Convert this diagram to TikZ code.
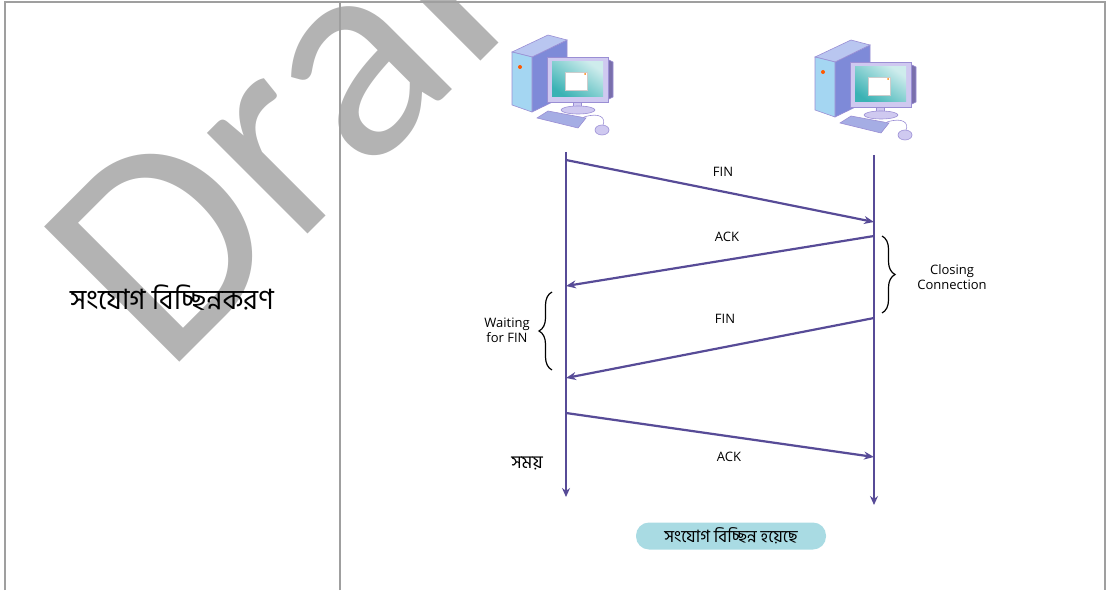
\documentclass[tikz,border=0pt]{standalone}
\usepackage{fontspec}
\setmainfont{Open Sans}
\newfontfamily\bn[Script=Bengali]{Hind Siliguri}
\newfontfamily\marca{Carlito}
\usepackage{xcolor}
\usetikzlibrary{arrows.meta,decorations.pathreplacing,positioning}

\definecolor{linea}{HTML}{574B97}
\definecolor{pill}{HTML}{A9DBE3}
\definecolor{agua}{HTML}{B3B3B3}
\definecolor{bordepc}{HTML}{9A8ED4}
\definecolor{torreFrente}{HTML}{A4D6F2}
\definecolor{torreTapa}{HTML}{B9C6F0}
\definecolor{torreLado}{HTML}{7E8AD8}
\definecolor{marco}{HTML}{CFC9F0}
\definecolor{pantalla}{HTML}{3AB2B4}

\tikzset{
  borde/.style={draw=gray!75, line width=1.2pt},
  tiempo/.style={linea, line width=2.2pt, -{Stealth[length=9pt,width=8pt]}},
  msg/.style={linea, line width=2.2pt, -{Stealth[length=10pt,width=8pt]}},
  etiq/.style={font=\fontsize{13}{15}\selectfont, align=center},
  llave/.style={decorate, decoration={brace, amplitude=13pt}, line width=1.2pt},
  pc/.style={draw=bordepc, line width=0.6pt}
}

% Computadora de escritorio (torre, monitor, teclado y raton)
\newcommand{\compu}[1]{%
\begin{scope}[shift={#1}]
  % torre
  \filldraw[pc, fill=torreLado] (-28,28) -- (7,45) -- (7,-10) -- (-28,-27) -- cycle;
  \filldraw[pc, fill=torreTapa] (-48,33) -- (-12,50) -- (7,45) -- (-28,28) -- cycle;
  \filldraw[pc, fill=torreFrente] (-48,33) -- (-28,28) -- (-28,-27) -- (-48,-20) -- cycle;
  \fill[orange!70!red] (-40,18) circle (2);
  % monitor
  \filldraw[pc, fill=linea!80] (47,26) -- (53,23) -- (53,-12) -- (47,-15) -- cycle;
  \filldraw[pc, fill=marco] (-13,28) rectangle (48,-17);
  \shade[top color=pantalla!25, bottom color=pantalla, shading angle=-35]
    (-8,23) rectangle (43,-12);
  \filldraw[draw=gray!40, fill=white] (5,13) rectangle (27,-5);
  \fill[orange] (25,11) circle (1);
  % base
  \filldraw[pc, fill=marco] (13,-17) rectangle (21,-23);
  \filldraw[pc, fill=marco] (18,-25) ellipse (17 and 4);
  % teclado
  \filldraw[pc, fill=torreLado!70] (-23,-33) -- (-12,-26) -- (26,-33) -- (18,-43) -- cycle;
  % raton
  \draw[pc] (24,-32) .. controls (40,-27) and (46,-33) .. (43,-40);
  \filldraw[pc, fill=marco] (42,-45) ellipse (7 and 5);
\end{scope}}

\begin{document}
\begin{tikzpicture}[x=1pt,y=1pt]
  \useasboundingbox (0,0) rectangle (1107,590);
  \clip (0,0) rectangle (1107,590);

  % Marca de agua
  \node[text=agua, font=\marca\fontsize{298}{298}\selectfont, anchor=base west,
        rotate=45, inner sep=0pt] (draft) at (165,213) {Draft};

  % Tabla
  \draw[borde] (5,0) -- (5,588) -- (1105,588) -- (1105,0);
  \draw[borde] (340,0) -- (340,588);

  \node[font=\bn\fontsize{28}{32}\selectfont] (titulo) at (172,292) {সংযোগ বিচ্ছিন্নকরণ};

  % Equipos
  \compu{(560,505)}
  \compu{(863,500)}

  % Lineas de tiempo
  \coordinate (A0) at (566,438); \coordinate (A1) at (566,93);
  \coordinate (B0) at (874,435); \coordinate (B1) at (874,85);
  \draw[tiempo] (A0) -- (A1);
  \draw[tiempo] (B0) -- (B1);
  \node[font=\bn\fontsize{18}{20}\selectfont] (tiempo) at (527,127) {সময়};

  % Mensajes
  \coordinate (a1) at (566,430); \coordinate (b1) at (874,368);
  \coordinate (b2) at (874,354); \coordinate (a2) at (566,304);
  \coordinate (b3) at (874,272); \coordinate (a3) at (566,212);
  \coordinate (a4) at (566,177); \coordinate (b4) at (874,133);
  \draw[msg] (a1) -- (b1);
  \draw[msg] (b2) -- (a2);
  \draw[msg] (b3) -- (a3);
  \draw[msg] (a4) -- (b4);
  \node[etiq] (fin1) at (723,418) {FIN};
  \node[etiq] (ack1) at (727,353) {ACK};
  \node[etiq] (fin2) at (725,271) {FIN};
  \node[etiq] (ack2) at (729,133) {ACK};

  % Llaves
  \coordinate (c0) at (882,354); \coordinate (c1) at (882,277);
  \draw[llave] (c0) -- (c1);
  \node[etiq] (cierre) at (952,313) {Closing\\Connection};
  \coordinate (w0) at (552,220); \coordinate (w1) at (552,298);
  \draw[llave] (w0) -- (w1);
  \node[etiq] (espera) at (507,260) {Waiting\\for FIN};

  % Estado final
  \node[fill=pill, rounded corners=13pt, minimum width=190pt, minimum height=27pt,
        font=\bn\fontsize{17}{19}\selectfont] (fin) at (731,54) {সংযোগ বিচ্ছিন্ন হয়েছে};
\end{tikzpicture}
\end{document}
